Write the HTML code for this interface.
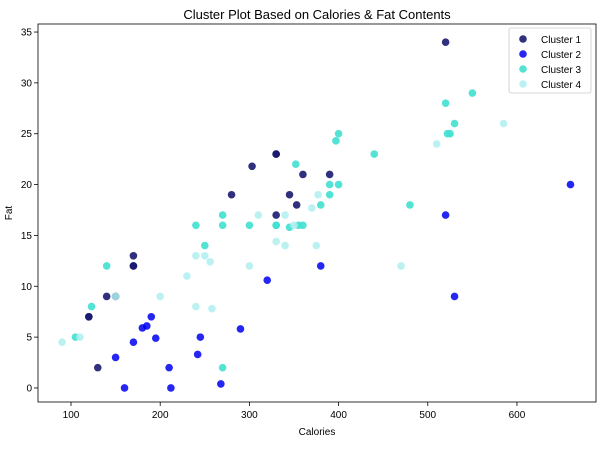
<!DOCTYPE html>
<html><head><meta charset="utf-8"><style>
body{margin:0;background:#fff;font-family:"Liberation Sans",sans-serif}
svg text{font-family:"Liberation Sans",sans-serif;fill:#000}
</style></head><body>
<svg id="chart" width="610" height="450"></svg>
<script>
const xTicks=[100,200,300,400,500,600];
const yTicks=[0,5,10,15,20,25,30,35];
const clusterNames=["Cluster 1","Cluster 2","Cluster 3","Cluster 4"];
const clusterColors=["rgba(25,25,112,0.9)","rgba(0,0,240,0.85)","rgba(64,224,208,0.9)","rgba(175,238,238,0.85)"];
const c1Cal=[520,330,330,303,360,390,280,345,353,330,170,170,170,140,150,120,120,130];
const c1Fat=[34,23,23,21.8,21,21,19,19,18,17,13,12,12,9,9,7,7,2];
const c2Cal=[660,520,380,320,530,190,185,180,290,245,195,170,242,150,210,268,160,212];
const c2Fat=[20,17,12,10.6,9,7,6.1,5.9,5.8,5,4.9,4.5,3.3,3,2,0.4,0,0];
const c3Cal=[550,520,530,522,525,400,397,440,352,390,400,390,380,480,270,330,240,270,300,330,345,355,360,250,140,123,105,270];
const c3Fat=[29,28,26,25,25,25,24.3,23,22,20,20,19,18,18,17,16,16,16,16,16,15.8,16,16,14,12,8,5,2];
const c4Cal=[585,510,370,377,310,340,330,340,375,350,240,250,256,300,470,230,200,150,240,258,110,90];
const c4Fat=[26,24,17.7,19,17,17,14.4,14,14,16,13,13,12.4,12,12,11,9,9,8,7.8,5,4.5];
const series=[[c1Cal,c1Fat],[c2Cal,c2Fat],[c3Cal,c3Fat],[c4Cal,c4Fat]];
const L=38,R=596,T=24,B=402,xMin=63,xMax=688.6,yMin=-1.38,yMax=35.79;
const X=v=>L+(v-xMin)/(xMax-xMin)*(R-L);
const Y=v=>B-(v-yMin)/(yMax-yMin)*(B-T);
const svg=document.getElementById('chart');
const NS='http://www.w3.org/2000/svg';
function mk(tag,attrs,parent){const e=document.createElementNS(NS,tag);for(const k in attrs)e.setAttribute(k,attrs[k]);(parent||svg).appendChild(e);return e;}
let t=mk('text',{x:(L+R)/2,y:19,'text-anchor':'middle','font-size':13});t.textContent="Cluster Plot Based on Calories & Fat Contents";


xTicks.forEach(v=>{const g=mk('g',{});


mk('line',{x1:X(v),x2:X(v),y1:B,y2:B+4,stroke:'#000','stroke-width':0.8},g);
const tx=mk('text',{x:X(v),y:B+16,'text-anchor':'middle','font-size':10},g);tx.textContent=v;});
yTicks.forEach(v=>{const g=mk('g',{});


mk('line',{x1:L-4,x2:L,y1:Y(v),y2:Y(v),stroke:'#000','stroke-width':0.8},g);
const tx=mk('text',{x:L-6,y:Y(v)+3.5,'text-anchor':'end','font-size':10},g);tx.textContent=v;});
t=mk('text',{x:(L+R)/2,y:435,'text-anchor':'middle','font-size':10});t.textContent="Calories";


t=mk('text',{x:12,y:(T+B)/2,'text-anchor':'middle','font-size':10,transform:`rotate(-90 12 ${(T+B)/2})`});t.textContent="Fat";


series.forEach((s,i)=>{s[0].forEach((c,j)=>{const p=mk('circle',{cx:X(c),cy:Y(s[1][j]),r:3.8,fill:clusterColors[i]});

});});
const fr=mk('rect',{x:L,y:T,width:R-L,height:B-T,fill:'none',stroke:'#000','stroke-width':0.8});


const lg=mk('g',{});


mk('rect',{x:509,y:28,width:82,height:65,fill:'#fff',stroke:'#ccc','stroke-width':0.8,rx:2},lg);
clusterNames.forEach((n,i)=>{const g=mk('g',{},lg);


mk('circle',{cx:523,cy:39+i*15,r:3.8,fill:clusterColors[i]},g);
const tx=mk('text',{x:541,y:43+i*15,'font-size':10},g);tx.textContent=n;});
</script>
</body></html>
